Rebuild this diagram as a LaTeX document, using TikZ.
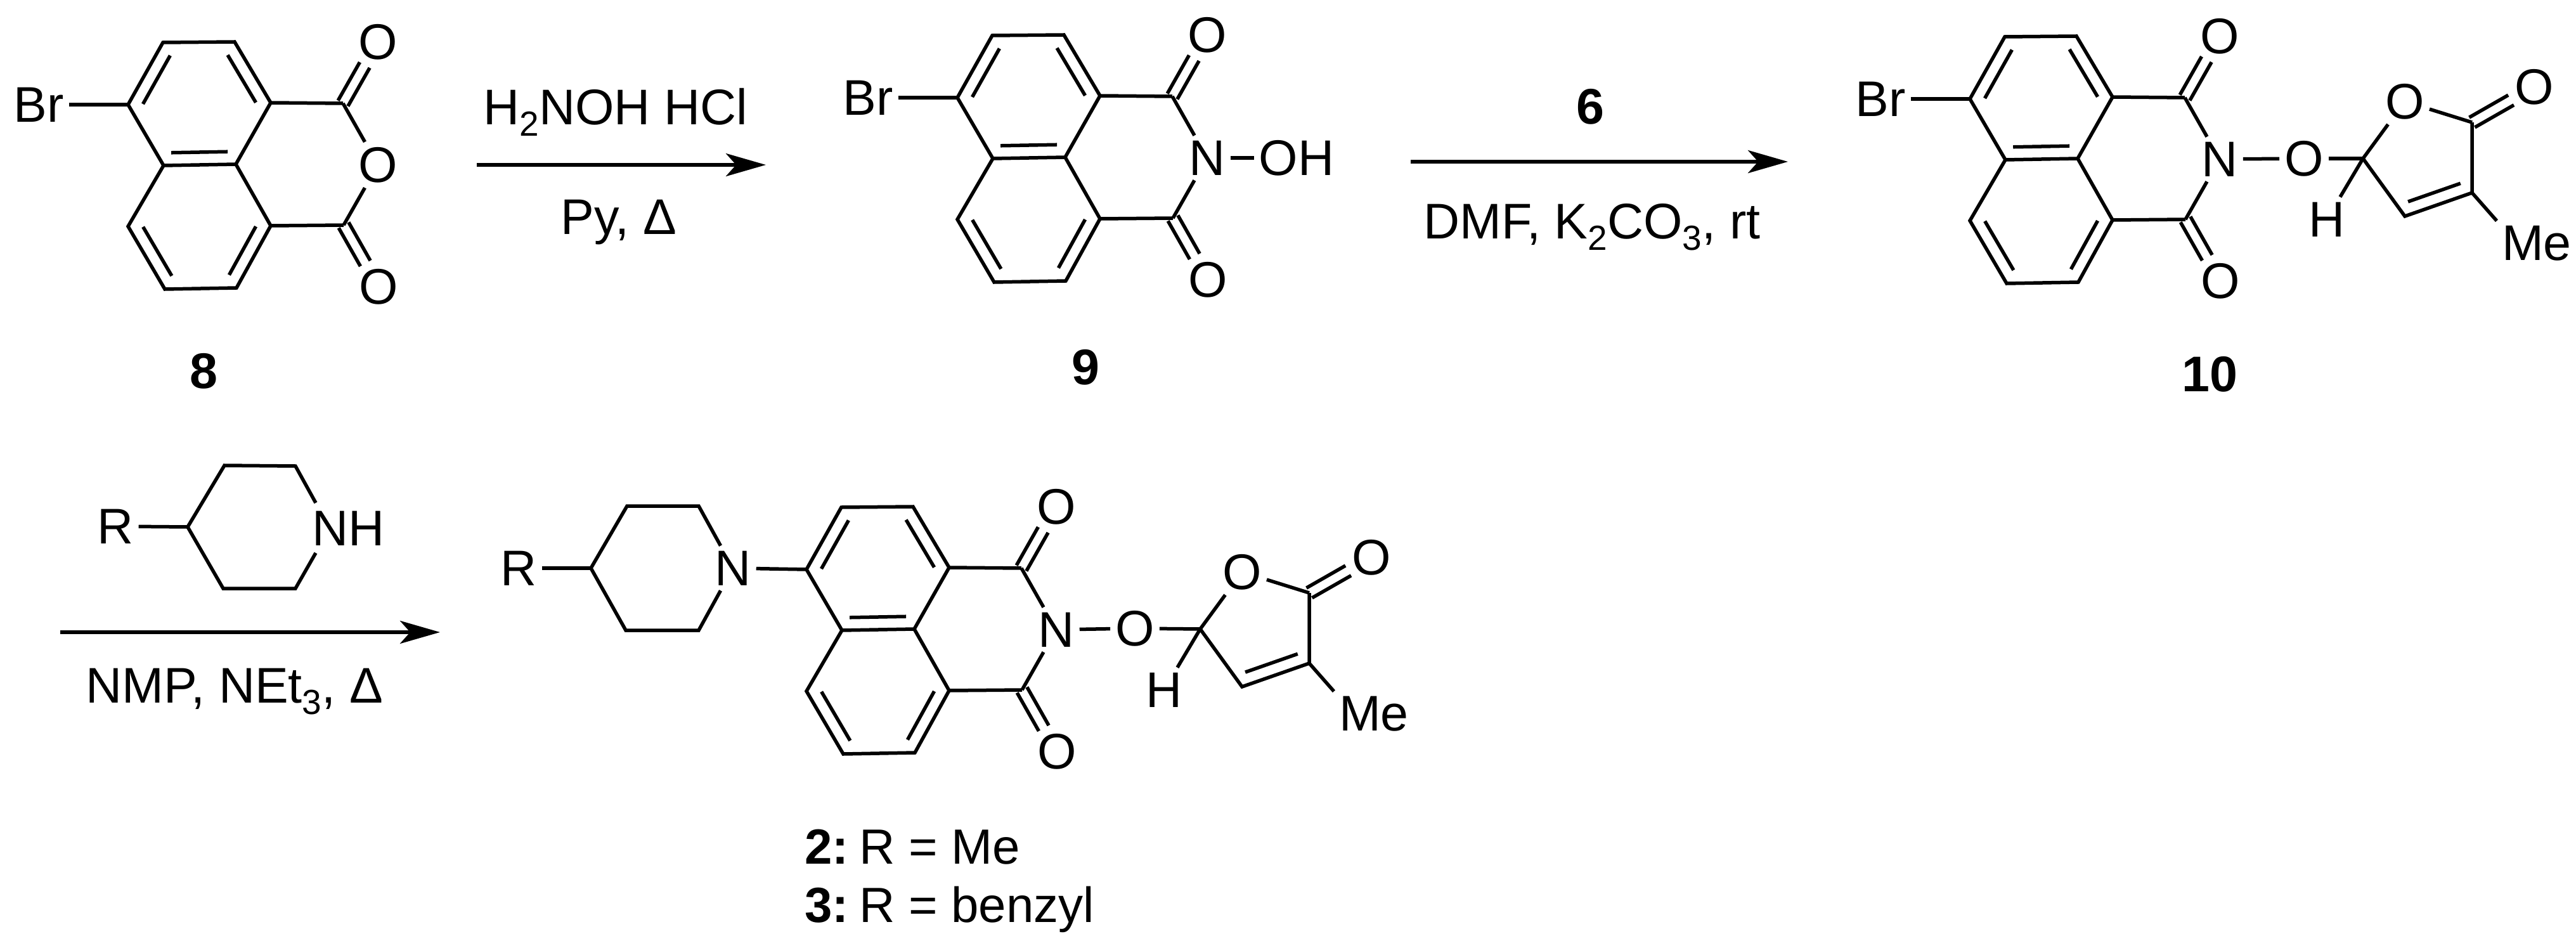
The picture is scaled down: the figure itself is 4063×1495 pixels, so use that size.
\documentclass[tikz,border=0pt]{standalone}
\usepackage{fontspec}
\setmainfont{Liberation Sans}
\usetikzlibrary{calc,arrows.meta}
\newcommand\chemsub[1]{\raisebox{-18pt}{\fontsize{55}{60}\selectfont #1}}
\tikzset{
  bond/.style={draw=black,line width=5.5pt,line cap=butt,line join=miter},
  atom/.style={inner sep=8pt,font=\fontsize{79}{90}\selectfont},
  txt/.style={inner sep=0pt,anchor=base,font=\fontsize{79}{90}\selectfont},
  listtxt/.style={inner sep=0pt,anchor=base west,font=\fontsize{78}{90}\selectfont},
  cmpd/.style={inner sep=0pt,anchor=base,font=\fontsize{79}{90}\selectfont\bfseries},
  rxn/.style={line width=5.5pt,-{Stealth[length=63pt,width=36pt,inset=16pt]}}
}
\newcommand\cdbl[2]{%
  \draw[bond,shorten >=42pt] ($(#1)!9pt!90:(#2.center)$) -- ($(#2.center)!9pt!-90:(#1)$);
  \draw[bond,shorten >=42pt] ($(#1)!9pt!-90:(#2.center)$) -- ($(#2.center)!9pt!90:(#1)$);}
\newcommand\inbond[3]{%
  \draw[bond] ($(#1)!.11!(#2)!20pt!#3:(#2)$) -- ($(#1)!.89!(#2)!20pt!#3:(#2)$);}
% naphthalic core: prefix, dx, dy, central atom
\newcommand\core[4]{%
  \begin{scope}[shift={(#2,#3)}]
    \coordinate (#1c1) at (202,165);
    \coordinate (#1c2) at (257,67);
    \coordinate (#1c3) at (370,66);
    \coordinate (#1c4) at (427,162);
    \coordinate (#1c5) at (372,259);
    \coordinate (#1c6) at (258,261);
    \coordinate (#1c7) at (202,357);
    \coordinate (#1c8) at (260,456);
    \coordinate (#1c9) at (373,454);
    \coordinate (#1c10) at (427,356);
    \coordinate (#1ca) at (541,163);
    \coordinate (#1cb) at (542,355);
    \node[atom] (#1oa) at (596,66) {O};
    \node[atom] (#1ob) at (597,452) {O};
    \node[atom] (#1x) at (596,260) {#4};
  \end{scope}
  \draw[bond] (#1c1) -- (#1c2) -- (#1c3) -- (#1c4) -- (#1c5) -- (#1c6) -- cycle;
  \draw[bond] (#1c6) -- (#1c7) -- (#1c8) -- (#1c9) -- (#1c10) -- (#1c5);
  \draw[bond] (#1c4) -- (#1ca);
  \draw[bond] (#1c10) -- (#1cb);
  \draw[bond] (#1ca) -- (#1x);
  \draw[bond] (#1cb) -- (#1x);
  \cdbl{#1ca}{#1oa}
  \cdbl{#1cb}{#1ob}
  \inbond{#1c1}{#1c2}{-90}
  \inbond{#1c3}{#1c4}{-90}
  \inbond{#1c5}{#1c6}{-90}
  \inbond{#1c10}{#1c9}{-90}
  \inbond{#1c8}{#1c7}{-90}}
% butenolide: prefix, x and y of the ring carbon bearing H
\newcommand\furan[3]{%
  \begin{scope}[shift={(#2,#3)}]
    \coordinate (#1f5) at (0,0);
    \node[atom] (#1fo) at (66,-90) {O};
    \coordinate (#1f2) at (172,-57);
    \coordinate (#1f3) at (172,54);
    \coordinate (#1f4) at (66,91);
    \node[atom] (#1exo) at (270,-113) {O};
    \node[atom] (#1h) at (-57,96) {H};
    \node[atom] (#1me) at (274,134) {Me};
  \end{scope}
  \draw[bond] (#1f5) -- (#1fo);
  \draw[bond] (#1fo) -- (#1f2);
  \draw[bond] (#1f2) -- (#1f3) -- (#1f4) -- (#1f5);
  \draw[bond] (#1f5) -- (#1h);
  \draw[bond] (#1f3) -- (#1me.north west);
  \cdbl{#1f2}{#1exo}
  \inbond{#1f4}{#1f3}{90}}
\begin{document}
\begin{tikzpicture}[x=1pt,y=-1pt]
\useasboundingbox (0,0) rectangle (4063,1495);
\fill[white] (0,0) rectangle (4063,1495);

% compound 8
\core{a}{0}{0}{O}
\node[atom] (abr) at (61,165) {Br};
\draw[bond] (abr) -- (ac1);
\node[cmpd] (lab8) at (321,612) {8};

% arrow 1
\coordinate (r1s) at (752,260);
\coordinate (r1e) at (1208,260);
\draw[rxn] (r1s) -- (r1e);
\node[txt] (r1t) at (971,197) {H\chemsub{2}NOH HCl};
\node[txt] (r1b) at (976,370) {Py, Δ};

% compound 9
\core{b}{1308}{-11}{N}
\node[atom] (bbr) at (1369,154) {Br};
\draw[bond] (bbr) -- (bc1);
\node[atom] (boh) at (2045,249) {OH};
\draw[bond] (bx) -- (boh);
\node[cmpd] (lab9) at (1712,606) {9};

% arrow 2
\coordinate (r2s) at (2225,255);
\coordinate (r2e) at (2820,255);
\draw[rxn] (r2s) -- (r2e);
\node[cmpd] (r2t) at (2508,196) {6};
\node[txt] (r2b) at (2511,377) {DMF, K\chemsub{2}CO\chemsub{3}, rt};

% compound 10
\core{c}{2905}{-9}{N}
\node[atom] (cbr) at (2966,156) {Br};
\draw[bond] (cbr) -- (cc1);
\node[atom] (clink) at (3634,250) {O};
\furan{c}{3727}{250}
\draw[bond] (cx) -- (clink);
\draw[bond] (clink) -- (cf5);
\node[cmpd] (lab10) at (3485,617) {10};

% reagent piperidine
\coordinate (p4) at (296,831);
\coordinate (p3) at (354,734);
\coordinate (p2) at (466,735);
\coordinate (p1) at (498,793);
\coordinate (p1b) at (498,872);
\coordinate (p6) at (466,928);
\coordinate (p5) at (352,928);
\node[atom] (pr) at (182,830) {R};
\node[atom,inner sep=0pt] (pnh) at (550,833) {NH};
\draw[bond] (pr) -- (p4);
\draw[bond] (p1) -- (p2) -- (p3) -- (p4) -- (p5) -- (p6) -- (p1b);

% arrow 3
\coordinate (r3s) at (95,997);
\coordinate (r3e) at (694,997);
\draw[rxn] (r3s) -- (r3e);
\node[txt] (r3b) at (370,1108) {NMP, NEt\chemsub{3}, Δ};

% product
\core{d}{1070}{733}{N}
\coordinate (q4) at (932,896);
\coordinate (q3) at (989,798);
\coordinate (q2) at (1102,798);
\coordinate (q6) at (1102,994);
\coordinate (q5) at (987,994);
\node[atom] (qr) at (818,896) {R};
\node[atom] (qn) at (1156,896) {N};
\draw[bond] (qr) -- (q4);
\draw[bond] (qn) -- (q2) -- (q3) -- (q4) -- (q5) -- (q6) -- (qn);
\draw[bond] (qn) -- (dc1);
\node[atom] (dlink) at (1790,991) {O};
\furan{d}{1893}{992}
\draw[bond] (dx) -- (dlink);
\draw[bond] (dlink) -- (df5);
\node[listtxt] (lab2) at (1269,1362) {\textbf{2:}\hspace{-12pt} R = Me};
\node[listtxt] (lab3) at (1269,1454) {\textbf{3:}\hspace{-12pt} R = benzyl};
\end{tikzpicture}
\end{document}
